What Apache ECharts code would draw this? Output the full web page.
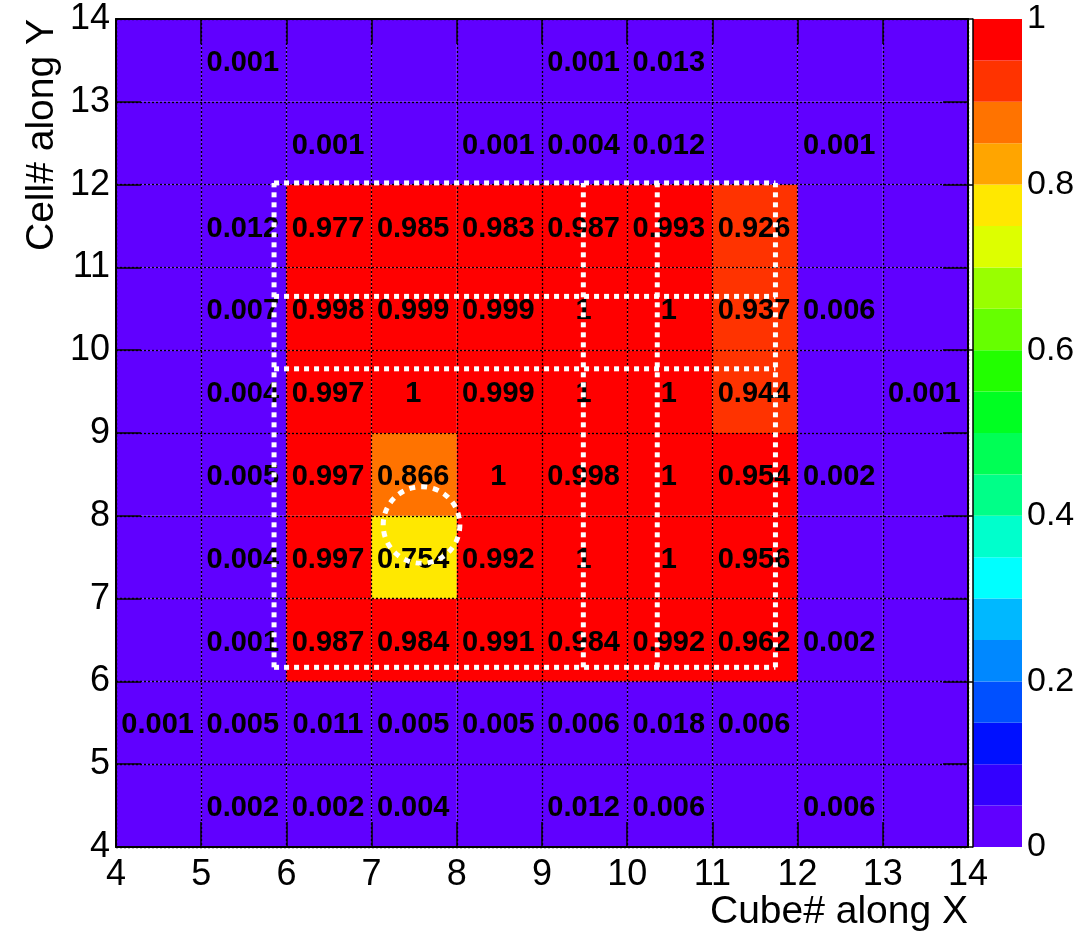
<!DOCTYPE html>
<html><head><meta charset="utf-8">
<script src="https://cdn.jsdelivr.net/npm/echarts@6/dist/echarts.min.js"></script>
<style>html,body{margin:0;padding:0;background:#fff}#chart{width:1091px;height:931px}</style>
</head><body><div id="chart"></div>
<script>
// ---- data ----
const xCells = [4, 5, 6, 7, 8, 9, 10, 11, 12, 13];
const yCells = [4, 5, 6, 7, 8, 9, 10, 11, 12, 13];
// one row per y cell (bottom to top), values per x cell (left to right); 0 = empty bin
const rowY4  = [0, 0.002, 0.002, 0.004, 0, 0.012, 0.006, 0, 0.006, 0];
const rowY5  = [0.001, 0.005, 0.011, 0.005, 0.005, 0.006, 0.018, 0.006, 0, 0];
const rowY6  = [0, 0.001, 0.987, 0.984, 0.991, 0.984, 0.992, 0.962, 0.002, 0];
const rowY7  = [0, 0.004, 0.997, 0.754, 0.992, 1, 1, 0.956, 0, 0];
const rowY8  = [0, 0.005, 0.997, 0.866, 1, 0.998, 1, 0.954, 0.002, 0];
const rowY9  = [0, 0.004, 0.997, 1, 0.999, 1, 1, 0.944, 0, 0.001];
const rowY10 = [0, 0.007, 0.998, 0.999, 0.999, 1, 1, 0.937, 0.006, 0];
const rowY11 = [0, 0.012, 0.977, 0.985, 0.983, 0.987, 0.993, 0.926, 0, 0];
const rowY12 = [0, 0, 0.001, 0, 0.001, 0.004, 0.012, 0, 0.001, 0];
const rowY13 = [0, 0.001, 0, 0, 0, 0.001, 0.013, 0, 0, 0];
const rows = [rowY4, rowY5, rowY6, rowY7, rowY8, rowY9, rowY10, rowY11, rowY12, rowY13];

const contourLevels = [0, 0.05, 0.1, 0.15, 0.2, 0.25, 0.3, 0.35, 0.4, 0.45, 0.5,
                       0.55, 0.6, 0.65, 0.7, 0.75, 0.8, 0.85, 0.9, 0.95, 1];
const paletteColors = ['#6000ff', '#3300ff', '#0010ff', '#0050ff', '#0088ff', '#00b8ff',
                       '#00ffff', '#00ffcc', '#00ff88', '#00ff55', '#00ff22', '#22ff00',
                       '#66ff00', '#99ff00', '#ddff00', '#ffe800', '#ffa500', '#ff7300',
                       '#ff3300', '#ff0000'];

// annotation overlays (data coordinates)
const overlaySegments = [
  [5.855, 12.02, 11.74, 12.02],
  [5.855, 6.17, 11.74, 6.17],
  [5.855, 6.17, 5.855, 12.02],
  [11.74, 6.17, 11.74, 12.02],
  [5.855, 10.65, 11.74, 10.65],
  [5.855, 9.775, 11.74, 9.775],
  [9.485, 6.17, 9.485, 12.02],
  [10.353, 6.17, 10.353, 12.02]
];
const overlayCircles = [[7.586, 7.889, 0.45]];

// ---- build ----
const heatData = [];
rows.forEach((row, j) => row.forEach((v, i) => heatData.push([xCells[i], yCells[j], v])));
const barData = paletteColors.map((c, k) => [contourLevels[k], contourLevels[k + 1], k]);
const pieces = paletteColors.map((c, k) => k === paletteColors.length - 1
  ? { gte: contourLevels[k], lte: contourLevels[k + 1], color: c }
  : { gte: contourLevels[k], lt: contourLevels[k + 1], color: c });

const FONT = '"Liberation Sans", Arial, Helvetica, sans-serif';
const tickStyle = { show: true, inside: true, length: 25, lineStyle: { color: '#000', width: 1.5 } };
const lineStyleAxis = { show: true, onZero: false, lineStyle: { color: '#000', width: 2 } };
const gridLine = { show: true, lineStyle: { color: '#000', width: 1.3, type: [2, 2] } };

const chart = echarts.init(document.getElementById('chart'), null, { renderer: 'canvas' });
chart.setOption({
  animation: false,
  backgroundColor: '#fff',
  grid: [
    { left: 116, top: 19, width: 852, height: 828, outerBoundsMode: 'none', containLabel: false },
    { left: 973, top: 19, width: 49, height: 828, outerBoundsMode: 'none', containLabel: false }
  ],
  xAxis: [
    { type: 'value', gridIndex: 0, min: 4, max: 14, interval: 1, position: 'bottom', z: 5,
      axisLine: lineStyleAxis, axisTick: tickStyle,
      axisLabel: { show: true, margin: 10, fontSize: 36, color: '#000', fontFamily: FONT, showMinLabel: true, showMaxLabel: true },
      splitLine: gridLine },
    { type: 'value', gridIndex: 0, min: 4, max: 14, interval: 1, position: 'top', z: 5,
      axisLine: lineStyleAxis, axisTick: tickStyle, axisLabel: { show: false }, splitLine: { show: false } },
    { type: 'value', gridIndex: 1, min: 0, max: 1, show: false }
  ],
  yAxis: [
    { type: 'value', gridIndex: 0, min: 4, max: 14, interval: 1, position: 'left', z: 5,
      axisLine: lineStyleAxis, axisTick: tickStyle,
      axisLabel: { show: true, margin: 6, fontSize: 36, color: '#000', fontFamily: FONT, showMinLabel: true, showMaxLabel: true },
      splitLine: gridLine },
    { type: 'value', gridIndex: 0, min: 4, max: 14, interval: 1, position: 'right', z: 5,
      axisLine: lineStyleAxis, axisTick: tickStyle, axisLabel: { show: false }, splitLine: { show: false } },
    { type: 'value', gridIndex: 1, min: 0, max: 1, interval: 0.2, position: 'right', z: 5,
      axisLine: { show: true, lineStyle: { color: '#000', width: 1.5 } },
      axisTick: { show: true, inside: true, length: 26, lineStyle: { color: '#000', width: 1.5 } },
      axisLabel: { show: true, margin: 5, fontSize: 34, color: '#000', fontFamily: FONT, showMinLabel: true, showMaxLabel: true },
      splitLine: { show: false } }
  ],
  visualMap: {
    type: 'piecewise', show: false, seriesIndex: 0, dimension: 2, pieces: pieces
  },
  series: [
    {
      type: 'custom', xAxisIndex: 0, yAxisIndex: 0, z: 2,
      encode: { x: 0, y: 1 },
      data: heatData,
      renderItem: function (params, api) {
        const x = api.value(0), y = api.value(1), v = api.value(2);
        const p0 = api.coord([x, y + 1]);
        const p1 = api.coord([x + 1, y]);
        const children = [{
          type: 'rect',
          shape: { x: p0[0], y: p0[1], width: p1[0] - p0[0], height: p1[1] - p0[1] },
          style: { fill: api.visual('color') }
        }];
        if (v > 0) {
          children.push({
            type: 'text', z2: 10,
            style: {
              text: String(v), x: (p0[0] + p1[0]) / 2 - 1, y: (p0[1] + p1[1]) / 2 + 2.5,
              align: 'center', verticalAlign: 'middle',
              font: 'bold 29px ' + FONT, fill: '#000'
            }
          });
        }
        return { type: 'group', children: children };
      }
    },
    {
      type: 'custom', xAxisIndex: 2, yAxisIndex: 2, z: 2,
      data: barData,
      renderItem: function (params, api) {
        const lo = api.value(0), hi = api.value(1), k = api.value(2);
        const p0 = api.coord([0, hi]);
        const p1 = api.coord([1, lo]);
        return {
          type: 'rect',
          shape: { x: p0[0], y: p0[1], width: p1[0] - p0[0], height: p1[1] - p0[1] },
          style: { fill: paletteColors[k] }
        };
      }
    },
    {
      type: 'custom', xAxisIndex: 0, yAxisIndex: 0, z: 20,
      data: overlaySegments,
      renderItem: function (params, api) {
        const a = api.coord([api.value(0), api.value(1)]);
        const b = api.coord([api.value(2), api.value(3)]);
        return {
          type: 'line',
          shape: { x1: a[0], y1: a[1], x2: b[0], y2: b[1] },
          style: { stroke: '#fff', lineWidth: 5, lineDash: [5, 5], fill: null }
        };
      }
    },
    {
      type: 'custom', xAxisIndex: 0, yAxisIndex: 0, z: 20,
      data: overlayCircles,
      renderItem: function (params, api) {
        const c = api.coord([api.value(0), api.value(1)]);
        const r = api.size([api.value(2), 0])[0];
        return {
          type: 'circle',
          shape: { cx: c[0], cy: c[1], r: r },
          style: { stroke: '#fff', lineWidth: 5, lineDash: [6, 6], fill: null }
        };
      }
    }
  ],
  graphic: [
    { type: 'text', x: 968, y: 893, z: 30,
      style: { text: 'Cube# along X', align: 'right', verticalAlign: 'top', font: '39px ' + FONT, fill: '#000' } },
    { type: 'text', x: 23, y: 19, rotation: Math.PI / 2, z: 30,
      style: { text: 'Cell# along Y', align: 'right', verticalAlign: 'top', font: '39px ' + FONT, fill: '#000' } }
  ]
});
</script>
</body></html>
